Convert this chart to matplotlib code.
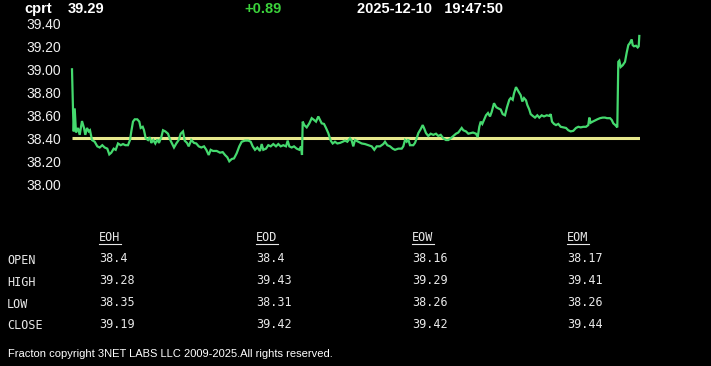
import matplotlib
matplotlib.use("Agg")
import matplotlib.pyplot as plt
import numpy as np

# ---------------- data ----------------
symbol = "cprt"
last_price = "39.29"
change = "+0.89"
stamp = "2025-12-10   19:47:50"
ref_level = 38.40

t = [0, 1, 1.7, 2.7, 4, 6, 7.7, 10, 12, 13.3, 15, 16.7, 18, 20, 22.7, 25.3, 27.7, 30.3,
     32.7, 35.3, 37.3, 39.3, 41.7, 43.7, 46, 48.7, 51, 53.3, 56, 58, 59.3, 61, 62.7, 65.3,
     67.3, 68.7, 70.7, 72, 73.7, 76, 77.7, 79.3, 81.3, 83.3, 85.3, 87, 89.3, 91, 93.3, 96,
     98, 100, 102, 104.3, 106.7, 108.7, 111, 112.7, 115, 116.7, 119.3, 122, 124.3, 126.7,
     129.3, 132, 134.3, 136.7, 138.7, 141, 144.7, 148, 150.7, 153, 155.3, 157.3, 159.7,
     162, 164.7, 167.3, 169.7, 173, 176.3, 178.7, 180.7, 183, 185.3, 188, 189.7, 191.3,
     194, 196.3, 198.7, 201.3, 204, 206.3, 208.7, 211.3, 214, 215.7, 217.3, 219.7, 222,
     224.7, 227.3, 229, 230, 230.7, 232.3, 234.7, 237.3, 239.7, 242, 244, 246.3, 248,
     249.7, 252, 254, 256.3, 258.7, 260.7, 263, 265.3, 268, 270.7, 273, 275.3, 278, 279.7,
     281.3, 283, 286.3, 289.7, 293, 296.3, 299.7, 302.3, 304.7, 308, 311.3, 313, 315.3,
     318, 320.7, 323, 326.3, 329.7, 331.3, 333, 334.7, 336.3, 338, 341.3, 343, 344.7,
     346.3, 348.7, 350.7, 352, 354, 356.3, 358.7, 361.3, 364, 366.3, 368.7, 371.3, 374,
     376.3, 378.7, 381.3, 384, 386.3, 388, 389.7, 391.3, 394, 396.3, 398.7, 401, 404,
     405.7, 407.3, 408.7, 410.3, 412, 414, 416, 418, 419.7, 422, 424.3, 426.3, 428.7,
     430.7, 433, 435, 437.3, 438.7, 440.7, 442, 444, 445.3, 447.3, 448.7, 450.3, 452,
     454, 455.3, 457.3, 458.7, 460.7, 463, 465.3, 467.3, 469.7, 472, 474.7, 477.3, 478.7,
     480, 482, 484, 486.3, 488.7, 491.3, 494, 496.3, 498.7, 501.3, 504, 506.3, 508.7,
     511.3, 514, 516.3, 517.3, 518.7, 520.7, 523, 525.3, 528, 530.7, 533, 535, 538, 539.7,
     541.3, 543.3, 545.3, 546.3, 547.3, 548.7, 550.7, 553, 554.7, 556.3, 558, 559.7, 560.7,
     562, 564, 565.7, 566.7, 567.3]

price = [39.00, 38.65, 38.46, 38.66, 38.45, 38.49, 38.43, 38.55, 38.49, 38.43, 38.49, 38.46,
         38.47, 38.385, 38.37, 38.33, 38.32, 38.34, 38.32, 38.31, 38.26, 38.275, 38.31, 38.30,
         38.355, 38.34, 38.35, 38.34, 38.34, 38.385, 38.46, 38.545, 38.565, 38.565, 38.545,
         38.49, 38.50, 38.47, 38.40, 38.385, 38.41, 38.36, 38.385, 38.355, 38.39, 38.36,
         38.41, 38.47, 38.46, 38.44, 38.39, 38.355, 38.32, 38.355, 38.385, 38.44, 38.46,
         38.38, 38.36, 38.33, 38.385, 38.36, 38.355, 38.33, 38.32, 38.33, 38.30, 38.255,
         38.30, 38.29, 38.29, 38.275, 38.28, 38.255, 38.235, 38.20, 38.22, 38.225, 38.27,
         38.33, 38.37, 38.38, 38.38, 38.37, 38.33, 38.30, 38.32, 38.29, 38.35, 38.30, 38.31,
         38.34, 38.33, 38.35, 38.33, 38.35, 38.33, 38.34, 38.33, 38.38, 38.33, 38.32, 38.33,
         38.31, 38.30, 38.33, 38.255, 38.545, 38.515, 38.495, 38.53, 38.575, 38.56, 38.545,
         38.59, 38.56, 38.53, 38.525, 38.49, 38.445, 38.38, 38.355, 38.37, 38.355, 38.36,
         38.37, 38.38, 38.37, 38.40, 38.38, 38.33, 38.385, 38.37, 38.355, 38.35, 38.34,
         38.33, 38.30, 38.33, 38.33, 38.35, 38.37, 38.34, 38.33, 38.31, 38.30, 38.31, 38.31,
         38.33, 38.385, 38.37, 38.39, 38.34, 38.34, 38.36, 38.40, 38.445, 38.48, 38.515,
         38.49, 38.445, 38.42, 38.44, 38.43, 38.44, 38.42, 38.43, 38.40, 38.385, 38.385,
         38.40, 38.42, 38.44, 38.45, 38.47, 38.49, 38.47, 38.46, 38.44, 38.445, 38.45, 38.44,
         38.41, 38.50, 38.545, 38.525, 38.56, 38.60, 38.62, 38.59, 38.63, 38.705, 38.67,
         38.66, 38.65, 38.61, 38.60, 38.67, 38.735, 38.75, 38.735, 38.79, 38.845, 38.825,
         38.795, 38.775, 38.72, 38.75, 38.73, 38.69, 38.65, 38.61, 38.595, 38.58, 38.60,
         38.58, 38.60, 38.59, 38.60, 38.595, 38.61, 38.545, 38.525, 38.515, 38.525, 38.50,
         38.495, 38.49, 38.47, 38.46, 38.465, 38.49, 38.50, 38.495, 38.50, 38.50, 38.515,
         38.58, 38.535, 38.545, 38.555, 38.565, 38.575, 38.58, 38.58, 38.575, 38.575, 38.56,
         38.53, 38.515, 38.495, 39.065, 39.075, 39.02, 39.035, 39.065, 39.145, 39.21, 39.23,
         39.26, 39.21, 39.20, 39.205, 39.19, 39.20, 39.29]

y_ticks = [38.00, 38.20, 38.40, 38.60, 38.80, 39.00, 39.20, 39.40]

col_headers = ["EOH", "EOD", "EOW", "EOM"]
row_labels = ["OPEN", "HIGH", "LOW", "CLOSE"]
table_values = [
    ["38.4", "38.4", "38.16", "38.17"],
    ["39.28", "39.43", "39.29", "39.41"],
    ["38.35", "38.31", "38.26", "38.26"],
    ["39.19", "39.42", "39.42", "39.44"],
]
footer = "Fracton copyright 3NET LABS LLC 2009-2025.All rights reserved."

# ---------------- figure ----------------
W, H = 711, 366
fig = plt.figure(figsize=(W / 100, H / 100), dpi=100, facecolor="black")

def fx(px):
    return px / W

def fy(py):
    return 1 - py / H

ax_left, ax_right = 72, 640
y_top_px, y_bot_px = 23.3, 184.3
ax = fig.add_axes([fx(ax_left), fy(y_bot_px), (ax_right - ax_left) / W, (y_bot_px - y_top_px) / H])
ax.set_facecolor("black")
ax.set_xlim(min(t), max(t) + 0.7)
ax.set_ylim(38.00, 39.40)
for s in ax.spines.values():
    s.set_visible(False)
ax.set_xticks([])
ax.set_yticks(y_ticks)
ax.set_yticklabels([f"{v:.2f}" for v in y_ticks], fontsize=10, color="#f0f0f0",
                   family="Liberation Sans")
ax.tick_params(axis="y", length=0, pad=8)

ax.hlines(ref_level, min(t), max(t) + 0.7, color="#e6e88c", lw=2.2, zorder=2)
ax.plot(t, price, color="#45d96e", lw=1.6, zorder=3, clip_on=False,
        solid_joinstyle="miter")

# header
hdr_y = fy(9)
fig.text(fx(24), hdr_y, symbol, color="white", fontsize=10.5, fontweight="bold",
         family="Liberation Sans", va="center")
fig.text(fx(68), hdr_y, last_price, color="white", fontsize=10.5, fontweight="bold",
         family="Liberation Sans", va="center")
fig.text(fx(244), hdr_y, change, color="#3bd23b", fontsize=10.5, fontweight="bold",
         family="Liberation Sans", va="center")
fig.text(fx(357), hdr_y, stamp, color="white", fontsize=10.5, fontweight="bold",
         family="Liberation Sans", va="center")

# table
col_x = [99, 256, 412, 567]
row_y = [259, 281, 303, 324.5]
head_y = 238
mono = dict(family="DejaVu Sans Mono", fontsize=8.5, color="#e8e8e8", va="center")
for cx, h in zip(col_x, col_headers):
    fig.text(fx(cx), fy(head_y), h, **mono)
    fig.add_artist(plt.Line2D([fx(cx), fx(cx + 22)], [fy(head_y + 6), fy(head_y + 6)],
                              color="#e8e8e8", lw=0.8))
for ry, lab, vals in zip(row_y, row_labels, table_values):
    fig.text(fx(7), fy(ry + 1), lab, **mono)
    for cx, v in zip(col_x, vals):
        fig.text(fx(cx), fy(ry), v, **mono)

fig.text(fx(8), fy(354), footer, color="white", fontsize=8,
         family=["Liberation Sans Narrow", "Liberation Sans"], va="center")

fig.savefig("out.png", dpi=100, facecolor="black")
